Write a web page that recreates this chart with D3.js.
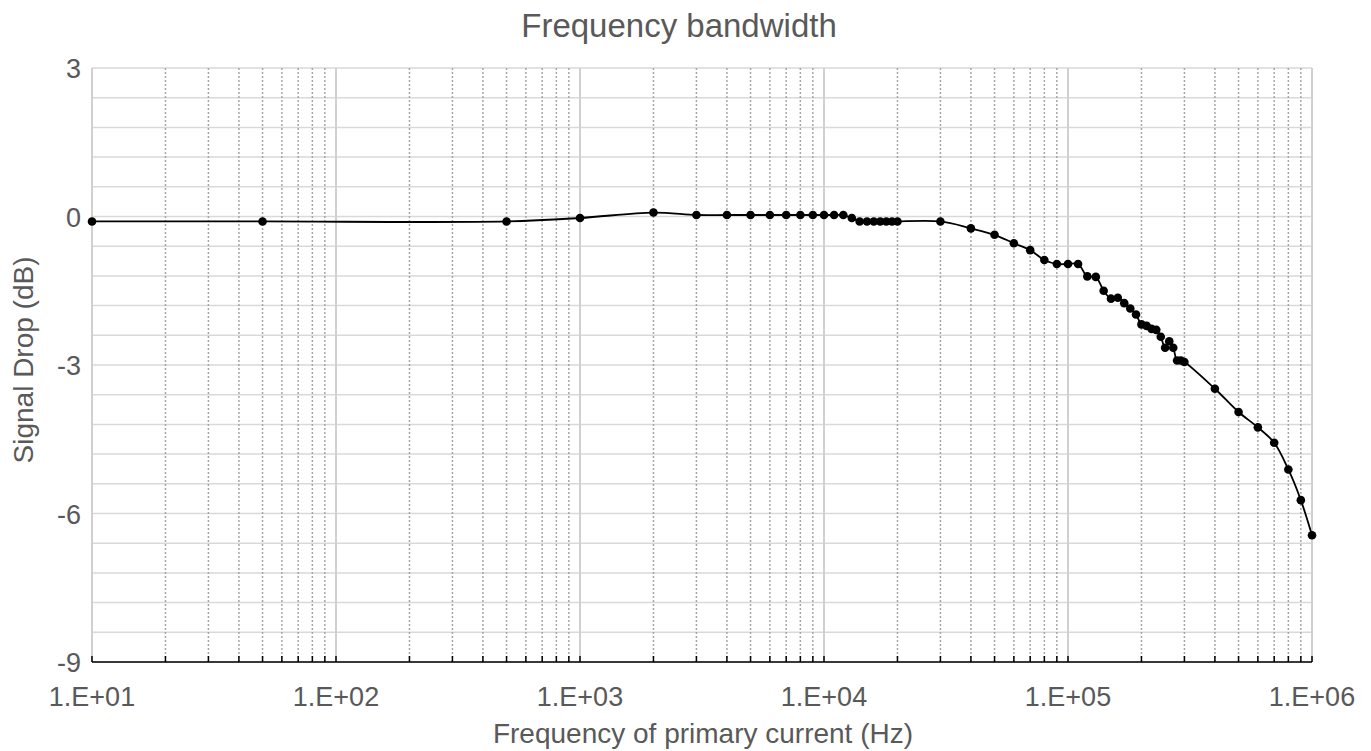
<!DOCTYPE html>
<html>
<head>
<meta charset="utf-8">
<script src="https://cdn.jsdelivr.net/npm/d3@7"></script>
<style>
  body { margin: 0; background: #fff; }
  text { font-family: "Liberation Sans", Arial, sans-serif; fill: #595959; }
</style>
</head>
<body>
<div id="chart"></div>
<script>
// measured frequency (Hz) and signal drop (dB)
const freq = [10, 50, 500, 1000, 2000, 3000, 4000, 5000, 6000, 7000, 8000, 9000, 10000, 11000, 12000,
  13000, 14000, 15000, 16000, 17000, 18000, 19000, 20000, 30000, 40000, 50000, 60000, 70000, 80000,
  90000, 100000, 110000, 120000, 130000, 140000, 150000, 160000, 170000, 180000, 190000, 200000,
  210000, 220000, 230000, 240000, 250000, 260000, 270000, 280000, 290000, 300000,
  400000, 500000, 600000, 700000, 800000, 900000, 1000000]
const drop = [-0.1, -0.1, -0.1, -0.03, 0.08, 0.03, 0.03, 0.03, 0.03, 0.03, 0.03, 0.03, 0.03, 0.03, 0.03,
  -0.03, -0.1, -0.1, -0.1, -0.1, -0.1, -0.1, -0.1, -0.1, -0.24, -0.37, -0.54, -0.68, -0.88,
  -0.96, -0.96, -0.96, -1.21, -1.22, -1.5, -1.66, -1.64, -1.75, -1.86, -1.98, -2.18,
  -2.21, -2.27, -2.29, -2.43, -2.65, -2.52, -2.65, -2.91, -2.91, -2.94,
  -3.48, -3.95, -4.26, -4.57, -5.11, -5.73, -6.44]

const yTicks = [3, 0, -3, -6, -9]
const decades = [1e1, 1e2, 1e3, 1e4, 1e5, 1e6]
const decadeLabels = ['1.E+01', '1.E+02', '1.E+03', '1.E+04', '1.E+05', '1.E+06']

const width = 1371, height = 751
const margin = {top: 68, right: 59, bottom: 89, left: 92}

const svg = d3.select('#chart').append('svg')
  .attr('width', width)
  .attr('height', height)

const x = d3.scaleLog()
  .domain([10, 1e6])
  .range([margin.left, width - margin.right])

const y = d3.scaleLinear()
  .domain([-9, 3])
  .range([height - margin.bottom, margin.top])

// minor positions 2..9 in each decade
const minors = []
decades.slice(0, -1).forEach(d => {
  for (let k = 2; k <= 9; k++) minors.push(d * k)
})

const grid = svg.append('g')

// horizontal grid every 0.6 dB
grid.selectAll('.hgrid')
  .data(d3.range(0, 21).map(i => -9 + i * 0.6))
  .join('line')
  .attr('x1', x(10)).attr('x2', x(1e6))
  .attr('y1', d => y(d)).attr('y2', d => y(d))
  .attr('stroke', '#d9d9d9')
  .attr('stroke-width', 1.5)

grid.selectAll('.vminor')
  .data(minors)
  .join('line')
  .attr('x1', d => x(d)).attr('x2', d => x(d))
  .attr('y1', y(3)).attr('y2', y(-9))
  .attr('stroke', '#a6a6a6')
  .attr('stroke-width', 1.5)
  .attr('stroke-dasharray', '2,2')

grid.selectAll('.vmajor')
  .data(decades)
  .join('line')
  .attr('x1', d => x(d)).attr('x2', d => x(d))
  .attr('y1', y(3)).attr('y2', y(-9))
  .attr('stroke', '#d0d0d0')
  .attr('stroke-width', 2)

// bottom axis
const axis = svg.append('g')
axis.append('line')
  .attr('x1', x(10)).attr('x2', x(1e6))
  .attr('y1', y(-9)).attr('y2', y(-9))
  .attr('stroke', '#000')
  .attr('stroke-width', 1.5)

axis.selectAll('.tick')
  .data(minors.concat(decades))
  .join('line')
  .attr('x1', d => x(d)).attr('x2', d => x(d))
  .attr('y1', y(-9)).attr('y2', y(-9) - 6)
  .attr('stroke', '#000')
  .attr('stroke-width', 1.5)

axis.selectAll('.xlabel')
  .data(decades)
  .join('text')
  .attr('x', d => x(d))
  .attr('y', y(-9) + 44)
  .attr('text-anchor', 'middle')
  .attr('font-size', 27)
  .text((d, i) => decadeLabels[i])

axis.selectAll('.ylabel')
  .data(yTicks)
  .join('text')
  .attr('x', margin.left - 11)
  .attr('y', d => y(d) + 10)
  .attr('text-anchor', 'end')
  .attr('font-size', 27)
  .text(d => d)

// titles
svg.append('text')
  .attr('x', 679).attr('y', 37)
  .attr('text-anchor', 'middle')
  .attr('font-size', 33)
  .text('Frequency bandwidth')

svg.append('text')
  .attr('x', 703).attr('y', 743)
  .attr('text-anchor', 'middle')
  .attr('font-size', 28)
  .text('Frequency of primary current (Hz)')

svg.append('text')
  .attr('transform', 'translate(33,360) rotate(-90)')
  .attr('text-anchor', 'middle')
  .attr('font-size', 28)
  .text('Signal Drop (dB)')

// data
const pts = freq.map((f, i) => [f, drop[i]])

const line = d3.line()
  .x(d => x(d[0]))
  .y(d => y(d[1]))
  .curve(d3.curveCatmullRom.alpha(0.5))

svg.append('path')
  .datum(pts)
  .attr('d', line)
  .attr('fill', 'none')
  .attr('stroke', '#000')
  .attr('stroke-width', 1.8)

svg.selectAll('.dot')
  .data(pts)
  .join('circle')
  .attr('cx', d => x(d[0]))
  .attr('cy', d => y(d[1]))
  .attr('r', 4.3)
  .attr('fill', '#000')
</script>
</body>
</html>
